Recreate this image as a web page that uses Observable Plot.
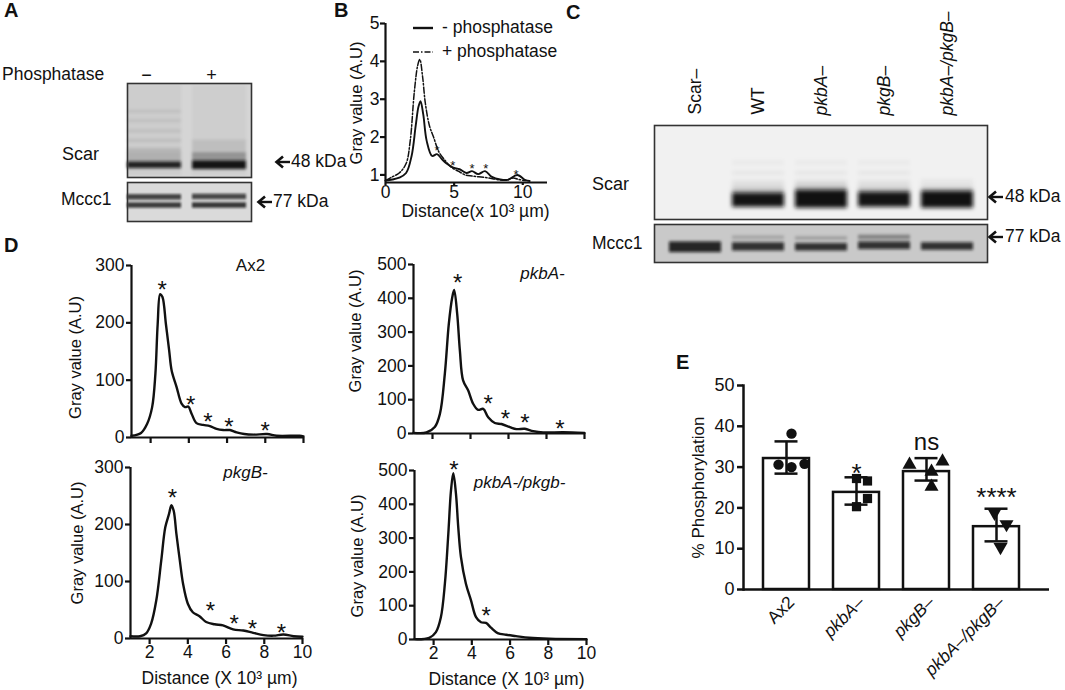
<!DOCTYPE html>
<html><head><meta charset="utf-8">
<script src="https://cdn.jsdelivr.net/npm/d3@7"></script>
<script src="https://cdn.jsdelivr.net/npm/@observablehq/plot@0.6"></script>
<style>
body{margin:0;background:#fff;}
#fig{position:relative;width:1065px;height:690px;overflow:hidden;font-family:"Liberation Sans",Arial,Helvetica,sans-serif;color:#111;background:#fff;}
#fig svg{overflow:visible;}
.t{position:absolute;white-space:nowrap;line-height:1;transform:translate(0,-50%);}
</style></head><body><div id="fig"></div><script>
// ---------------- DATA ----------------
// Panel A blot (lane, top %, bottom %, density)
const aLanes = ["−", "+"];
const aScarBands = [
  ["−", 2, 98, 0.04], ["−", 28.5, 31.5, 0.07], ["−", 38.5, 41.5, 0.07], ["−", 49.5, 52.5, 0.08],
  ["−", 59.5, 62.5, 0.09], ["−", 69, 73, 0.11], ["−", 73, 84, 0.14], ["−", 83.5, 90.5, 0.9],
  ["+", 2, 98, 0.03], ["+", 60, 76, 0.08], ["+", 74, 84, 0.28], ["+", 82.5, 91.5, 0.96]
];
const aMcccBands = [
  ["−", 31, 45, 0.75], ["−", 52, 66, 0.78], ["+", 30, 44, 0.72], ["+", 52, 66, 0.80]
];
// Panel B profiles
const bMinusX = [0, 0.5, 1, 1.5, 1.9, 2.2, 2.4, 2.55, 2.75, 3.0, 3.4, 3.75, 4.1, 4.45, 4.9, 5.4, 5.9, 6.3, 6.75, 7.25, 7.75, 8.35, 8.9, 9.6, 10.2, 10.5];
const bMinusY = [0.85, 0.88, 0.93, 1.05, 1.5, 2.3, 2.8, 2.95, 2.6, 1.9, 1.5, 1.55, 1.42, 1.3, 1.2, 1.15, 1.05, 1.1, 1.02, 1.1, 0.95, 0.88, 0.87, 1.0, 0.86, 0.84];
const bPlusX = [0, 0.5, 1.0, 1.5, 1.8, 2.1, 2.35, 2.5, 2.7, 2.9, 3.2, 3.5, 3.9, 4.3, 4.8, 5.3, 5.8, 6.3, 6.8, 7.3, 7.8, 8.3, 8.8, 9.3, 9.7, 10.2];
const bPlusY = [0.85, 0.95, 1.05, 1.3, 1.9, 3.2, 3.9, 4.05, 3.6, 2.9, 2.3, 2.0, 1.6, 1.4, 1.2, 1.1, 1.0, 0.97, 0.95, 0.93, 0.9, 0.87, 0.86, 0.92, 0.88, 0.85];
const bStarX = [3.75, 4.9, 6.3, 7.3, 9.5];
const bStarY = [1.7, 1.3, 1.22, 1.22, 1.06];
const bLegend = ["- phosphatase", "+ phosphatase"];
// Panel C blot
const cLanes = ["Scar–", "WT", "pkbA–", "pkgB–", "pkbA–/pkgB–"];
const cScarBands = [
  ["WT", 38, 42, 0.04], ["WT", 49, 53, 0.05], ["WT", 59, 65, 0.08], ["WT", 66, 74, 0.18], ["WT", 72, 87, 0.97],
  ["pkbA–", 38, 42, 0.04], ["pkbA–", 49, 53, 0.05], ["pkbA–", 59, 65, 0.1], ["pkbA–", 65, 72, 0.22], ["pkbA–", 69, 88, 0.98],
  ["pkgB–", 38, 42, 0.04], ["pkgB–", 49, 53, 0.05], ["pkgB–", 59, 65, 0.08], ["pkgB–", 66, 74, 0.18], ["pkgB–", 71, 87, 0.97],
  ["pkbA–/pkgB–", 58, 66, 0.05], ["pkbA–/pkgB–", 66, 74, 0.16], ["pkbA–/pkgB–", 70, 88, 0.98]
];
const cMcccBands = [
  ["Scar–", 46, 74, 0.88], ["WT", 30, 40, 0.18], ["WT", 48, 70, 0.82], ["pkbA–", 32, 42, 0.2], ["pkbA–", 50, 70, 0.82],
  ["pkgB–", 28, 40, 0.35], ["pkgB–", 46, 66, 0.82], ["pkbA–/pkgB–", 48, 68, 0.82]
];
// Panel D profiles
const ax2X = [1, 1.5, 1.82, 2.08, 2.25, 2.37, 2.5, 2.62, 2.8, 2.97, 3.1, 3.36, 3.62, 3.8, 3.97, 4.15, 4.4, 4.75, 5.1, 5.45, 5.8, 6.15, 6.5, 6.9, 7.4, 8.1, 8.6, 9.8, 10];
const ax2Y = [3, 8, 24, 53, 111, 198, 250, 245, 198, 152, 117, 88, 59, 53, 54, 41, 25, 22, 20, 15, 13, 13, 9, 6, 5, 6, 3, 3, 2];
const ax2StarX = [2.6, 4.1, 5.0, 6.1, 8.0];
const ax2StarY = [268, 66, 37, 29, 21];
const pkbAX = [1, 1.68, 2.12, 2.39, 2.65, 2.86, 3.04, 3.14, 3.3, 3.44, 3.61, 3.88, 4.14, 4.4, 4.67, 4.93, 5.28, 5.63, 6.07, 6.42, 6.86, 7.3, 7.82, 8.88, 10];
const pkbAY = [2, 3, 19, 58, 177, 325, 403, 425, 354, 246, 157, 127, 88, 70, 73, 48, 31, 28, 19, 13, 14, 7, 3, 4, 2];
const pkbAStarX = [3.32, 4.93, 5.84, 6.86, 8.7];
const pkbAStarY = [461, 103, 60, 48, 31];
const pkgBX = [1, 1.5, 1.82, 2.08, 2.35, 2.61, 2.82, 3.02, 3.14, 3.26, 3.4, 3.58, 3.75, 4.0, 4.26, 4.61, 4.96, 5.4, 5.84, 6.37, 6.9, 7.42, 7.96, 8.49, 9.0, 9.54, 10];
const pkgBY = [4, 4, 9, 26, 67, 137, 195, 219, 234, 224, 184, 137, 96, 61, 46, 39, 29, 25, 23, 16, 14, 10, 6, 5, 7, 4, 3];
const pkgBStarX = [3.19, 5.18, 6.42, 7.38, 8.9];
const pkgBStarY = [257, 58, 36, 27, 20];
const dblX = [1, 1.77, 2.12, 2.38, 2.59, 2.77, 2.91, 3.03, 3.17, 3.29, 3.43, 3.69, 3.96, 4.22, 4.48, 4.74, 5.0, 5.35, 5.79, 6.31, 7.0, 8.05, 10];
const dblY = [1, 5, 22, 66, 165, 313, 441, 492, 431, 332, 244, 165, 115, 66, 51, 49, 35, 19, 14, 10, 5, 2, 1];
const dblStarX = [3.06, 4.75];
const dblStarY = [518, 86];
// Panel E
const eGroups = ["Ax2", "pkbA–", "pkgB–", "pkbA–/pkgB–"];
const eMeans = [32.1, 23.8, 28.9, 15.4];
const eErrLo = [28.4, 20.8, 26.7, 11.8];
const eErrHi = [36.3, 27.5, 32.2, 19.8];
const eReps = [[38.2, 30.6, 30.0, 30.8], [27.2, 26.6, 22.3, 20.3], [30.6, 31.4, 28.9, 25.2], [18.8, 16.0, 10.4]];
const eSig = ["", "*", "ns", "****"];
// layout-only horizontal spread of replicate dots (px)
const eDotDx = [[5, -8, 5, 18], [0, 11, 11, 0], [-17, 16, 5, 5], [-2, 10, 4]];

// ---------------- LAYOUT HELPERS ----------------
const FONT = '"Liberation Sans", Arial, Helvetica, sans-serif';
const fig = document.getElementById("fig");
const baseStyle = {fontFamily: FONT, fontSize: "17px", color: "#111", background: "transparent", overflow: "visible"};
function put(node, left, top) {
  node.style.position = "absolute"; node.style.left = left + "px"; node.style.top = top + "px";
  fig.appendChild(node); return node;
}
function label(text, x, y, o = {}) {
  const d = document.createElement("div");
  d.className = "t"; d.textContent = text;
  d.style.left = x + "px"; d.style.top = y + "px";
  d.style.fontSize = (o.size || 17) + "px";
  if (o.bold) d.style.fontWeight = "bold";
  if (o.italic) d.style.fontStyle = "italic";
  fig.appendChild(d); return d;
}
function arrow(x, cy) {
  const s = d3.create("svg").attr("width", 15).attr("height", 14).style("overflow", "visible");
  s.append("path").attr("d", "M2,7 H15").attr("stroke", "#111").attr("stroke-width", 2.4);
  s.append("path").attr("d", "M8,1.5 L1.5,7 L8,12.5").attr("stroke", "#111").attr("stroke-width", 2.6)
    .attr("fill", "none").attr("stroke-linejoin", "miter");
  put(s.node(), x, cy - 7);
}
let blurCount = 0;
function blurBars(svg, sd) {
  const s = d3.select(svg);
  const id = "blotblur" + (blurCount++);
  s.insert("defs", ":first-child").append("filter").attr("id", id)
    .attr("filterUnits", "userSpaceOnUse")
    .attr("x", -20).attr("y", -20).attr("width", +s.attr("width") + 40).attr("height", +s.attr("height") + 40)
    .append("feGaussianBlur").attr("stdDeviation", sd);
  s.selectAll('g[aria-label="bar"]').attr("filter", `url(#${id})`).style("filter", `url(#${id})`);
  return svg;
}
const ink = d => `rgba(15,15,15,${d[3]})`;

// ---------------- PANEL LETTERS ----------------
label("A", 4, 10, {size: 20, bold: true});
label("B", 334, 10, {size: 20, bold: true});
label("C", 566, 12, {size: 20, bold: true});
label("D", 4, 245, {size: 20, bold: true});
label("E", 676, 362, {size: 20, bold: true});

// ---------------- PANEL A ----------------
label("Phosphatase", 2, 75, {size: 17.5});
label("Scar", 62, 154, {size: 18});
label("Mccc1", 61, 200, {size: 17.5});
arrow(275, 162); label("48 kDa", 291, 162, {size: 17.5});
arrow(257, 202); label("77 kDa", 273, 202, {size: 17.5});

put(blurBars(Plot.plot({
  width: 160, height: 124, marginLeft: 27, marginRight: 9, marginTop: 28, marginBottom: 2,
  style: baseStyle,
  x: {type: "band", domain: aLanes, range: [27, 146], paddingInner: 0.17, paddingOuter: 0, axis: null},
  y: {domain: [0, 100], reverse: true, axis: null},
  marks: [
    Plot.frame({fill: "#d5d5d5"}),
    Plot.barY(aScarBands, {x: d => d[0], y1: d => d[1], y2: d => d[2], fill: ink}),
    Plot.frame({stroke: "#333", strokeWidth: 1.6}),
    Plot.text(aLanes, {x: d => d, frameAnchor: "top", lineAnchor: "middle", dx: -8, dy: -8, fontSize: 18})
  ]
}), 1.8), 100, 55);

put(blurBars(Plot.plot({
  width: 124, height: 39, marginLeft: 0, marginRight: 0, marginTop: 0, marginBottom: 0,
  style: baseStyle,
  x: {type: "band", domain: aLanes, range: [0, 119], paddingInner: 0.17, paddingOuter: 0, axis: null},
  y: {domain: [0, 100], reverse: true, axis: null},
  marks: [
    Plot.frame({fill: "#dadada"}),
    Plot.barY(aMcccBands, {x: d => d[0], y1: d => d[1], y2: d => d[2], fill: ink}),
    Plot.frame({stroke: "#333", strokeWidth: 1.6})
  ]
}), 1.3), 127, 182);

// ---------------- PANEL B ----------------
put(Plot.plot({
  width: 240, height: 225, marginLeft: 55, marginRight: 23, marginTop: 23, marginBottom: 43,
  style: baseStyle,
  x: {domain: [0, 11.8]}, y: {domain: [0.8, 5]},
  marks: [
    Plot.axisY({ticks: [1, 2, 3, 4, 5], tickFormat: d => String(d), tickSize: 5, tickPadding: 1, strokeWidth: 2.2, fontSize: 17.5, label: null}),
    Plot.axisX({ticks: [0, 5, 10], tickFormat: d => String(d), tickSize: 3, tickPadding: 0, strokeWidth: 2.2, fontSize: 17.5, label: null}),
    Plot.ruleX([0], {strokeWidth: 2.2}),
    Plot.ruleY([0.8], {strokeWidth: 2.2}),
    Plot.line(bPlusX.map((x, i) => [x, bPlusY[i]]), {curve: "catmull-rom", strokeWidth: 1.5, strokeDasharray: "6,2,1.5,2"}),
    Plot.line(bMinusX.map((x, i) => [x, bMinusY[i]]), {curve: "catmull-rom", strokeWidth: 1.9}),
    Plot.text(bStarX.map((x, i) => [x, bStarY[i]]), {text: () => "*", fontSize: 13, dy: 2}),
    Plot.text(["Gray value (A.U)"], {frameAnchor: "left", textAnchor: "middle", lineAnchor: "middle", dx: -29, rotate: -90, fontSize: 16.5}),
    Plot.text(["Distance(x 10³ µm)"], {frameAnchor: "bottom", lineAnchor: "middle", dx: 9, dy: 29, fontSize: 17.5})
  ]
}), 330, 0);

// legend for B
bLegend.forEach((txt, i) => {
  const cy = i === 0 ? 28 : 52;
  const s = d3.create("svg").attr("width", 20).attr("height", 6);
  s.append("line").attr("x1", 0).attr("x2", 20).attr("y1", 3).attr("y2", 3)
    .attr("stroke", "#111").attr("stroke-width", i === 0 ? 2.4 : 1.6)
    .attr("stroke-dasharray", i === 0 ? null : "6,2,1.5,2");
  put(s.node(), 413, cy - 3);
  label(txt, 442, cy, {size: 17.5});
});

// ---------------- PANEL C ----------------
label("Scar", 592, 184, {size: 18});
label("Mccc1", 592, 244, {size: 17.5});
arrow(988, 197); label("48 kDa", 1005, 197, {size: 17.5});
arrow(988, 237); label("77 kDa", 1005, 237, {size: 17.5});

put(blurBars(Plot.plot({
  width: 360, height: 221, marginLeft: 14, marginRight: 13, marginTop: 125, marginBottom: 2,
  style: baseStyle,
  x: {type: "band", domain: cLanes, range: [28, 334], paddingInner: 0.18, paddingOuter: 0, axis: null},
  y: {domain: [0, 100], reverse: true, axis: null},
  marks: [
    Plot.frame({fill: "#f1f1f1"}),
    Plot.barY(cScarBands, {x: d => d[0], y1: d => d[1], y2: d => d[2], fill: ink}),
    Plot.frame({stroke: "#333", strokeWidth: 1.6}),
    Plot.text(cLanes.filter(d => d === "Scar–" || d === "WT"), {x: d => d, frameAnchor: "top", lineAnchor: "middle", dy: -11, rotate: -90, textAnchor: "start", fontSize: 17.5}),
    Plot.text(cLanes.filter(d => d !== "Scar–" && d !== "WT"), {x: d => d, frameAnchor: "top", lineAnchor: "middle", dy: -10, rotate: -90, textAnchor: "start", fontSize: 17.5, fontStyle: "italic"})
  ]
}), 2.2), 640, 0);

put(blurBars(Plot.plot({
  width: 333, height: 38, marginLeft: 0, marginRight: 0, marginTop: 0, marginBottom: 0,
  style: baseStyle,
  x: {type: "band", domain: cLanes, range: [14, 320], paddingInner: 0.18, paddingOuter: 0, axis: null},
  y: {domain: [0, 100], reverse: true, axis: null},
  marks: [
    Plot.frame({fill: "#c9c9c9"}),
    Plot.barY(cMcccBands, {x: d => d[0], y1: d => d[1], y2: d => d[2], fill: ink}),
    Plot.frame({stroke: "#333", strokeWidth: 1.6})
  ]
}), 1.6), 654, 224);

// ---------------- PANEL D ----------------
function profilePlot(p) {
  const pts = p.x.map((x, i) => [x, p.y[i]]);
  const stars = p.sx.map((x, i) => [x, p.sy[i]]);
  return Plot.plot({
    width: p.w, height: p.h, marginLeft: p.ml, marginRight: p.mr, marginTop: p.mt, marginBottom: p.mb,
    style: baseStyle,
    x: {domain: [1, 10]}, y: {domain: [0, p.ymax]},
    marks: [
      Plot.axisY({ticks: p.yticks, tickFormat: d => String(d), tickSize: 5, tickPadding: 2, strokeWidth: 2.2, fontSize: 17.5, label: null}),
      Plot.axisX({ticks: [2, 4, 6, 8, 10], tickSize: 6, tickPadding: 1, strokeWidth: 2.2, fontSize: 17.5, label: null,
        tickFormat: p.xlabels ? (d => String(d)) : (() => "")}),
      Plot.ruleX([1], {strokeWidth: 2.2}),
      Plot.ruleY([0], {strokeWidth: 2.2}),
      Plot.line(pts, {curve: "catmull-rom", strokeWidth: 2.4}),
      Plot.text(stars, {text: () => "*", fontSize: 24, dy: 6}),
      Plot.text([p.name], {frameAnchor: "top-right", dx: p.ndx, dy: p.ndy, textAnchor: "middle", lineAnchor: "middle",
        fontStyle: p.italic ? "italic" : "normal", fontSize: 17}),
      Plot.text(["Gray value (A.U)"], {frameAnchor: "left", textAnchor: "middle", lineAnchor: "middle", dx: p.ldx, dy: p.ldy, rotate: -90, fontSize: 16.5}),
      p.xlabels ? Plot.text(["Distance (X 10³ µm)"], {frameAnchor: "bottom", lineAnchor: "middle", dx: p.xdx, dy: 40, fontSize: 17.5}) : null
    ]
  });
}
put(profilePlot({x: ax2X, y: ax2Y, sx: ax2StarX, sy: ax2StarY, name: "Ax2", italic: false, ymax: 300, yticks: [0, 100, 200, 300],
  w: 310, h: 210, ml: 131, mr: 7, mt: 25, mb: 13, xlabels: false, ndx: -53, ndy: 0, ldx: -56, ldy: 6}), 0, 240);
put(profilePlot({x: pkbAX, y: pkbAY, sx: pkbAStarX, sy: pkbAStarY, name: "pkbA-", italic: true, ymax: 500, yticks: [0, 100, 200, 300, 400, 500],
  w: 310, h: 210, ml: 133, mr: 6, mt: 24, mb: 17, xlabels: false, ndx: -42, ndy: 9, ldx: -58, ldy: -18}), 280, 240);
put(profilePlot({x: pkgBX, y: pkgBY, sx: pkgBStarX, sy: pkgBStarY, name: "pkgB-", italic: true, ymax: 300, yticks: [0, 100, 200, 300],
  w: 310, h: 240, ml: 130, mr: 8, mt: 17, mb: 52, xlabels: true, ndx: -57, ndy: 5, ldx: -53, ldy: -10, xdx: 3}), 0, 450);
put(profilePlot({x: dblX, y: dblY, sx: dblStarX, sy: dblStarY, name: "pkbA-/pkgb-", italic: true, ymax: 500, yticks: [0, 100, 200, 300, 400, 500],
  w: 300, h: 240, ml: 124, mr: 4, mt: 20, mb: 51, xlabels: true, ndx: -67, ndy: 12, ldx: -57, ldy: 1, xdx: 6}), 290, 450);

// ---------------- PANEL E ----------------
const eRows = eGroups.map((g, i) => ({g, mean: eMeans[i], lo: eErrLo[i], hi: eErrHi[i], sig: eSig[i]}));
const triDown = {draw(ctx, size) {
  const y = -Math.sqrt(size / (Math.sqrt(3) * 3));
  ctx.moveTo(0, -y * 2); ctx.lineTo(-Math.sqrt(3) * y, y); ctx.lineTo(Math.sqrt(3) * y, y); ctx.closePath();
}};
const eSymbols = ["circle", "square", "triangle", triDown];
const dotMarks = [];
eReps.forEach((vals, gi) => vals.forEach((v, j) => {
  dotMarks.push(Plot.dot([{g: eGroups[gi], v}], {x: "g", y: "v", r: 5.2, symbol: eSymbols[gi], fill: "#111", stroke: "none", dx: eDotDx[gi][j]}));
}));
const sigDy = {"*": -3.5, "ns": -16, "****": -11};
const sigSize = {"*": 26, "ns": 24, "****": 26};
put(Plot.plot({
  width: 405, height: 390, marginLeft: 83, marginRight: 16, marginTop: 85, marginBottom: 101,
  style: baseStyle,
  x: {type: "band", domain: eGroups, range: [101, 361], paddingInner: 0.338, paddingOuter: 0, axis: null},
  y: {domain: [0, 50]},
  marks: [
    Plot.axisY({ticks: [0, 10, 20, 30, 40, 50], tickFormat: d => String(d), tickSize: 6, tickPadding: 3, strokeWidth: 2.5, fontSize: 18, label: null}),
    Plot.frame({anchor: "left", strokeWidth: 2.5}),
    Plot.barY(eRows, {x: "g", y: "mean", fill: "white", stroke: "#111", strokeWidth: 2.5}),
    Plot.ruleY([0], {strokeWidth: 2.5}),
    Plot.ruleX(eRows, {x: "g", y1: "lo", y2: "hi", strokeWidth: 2.5}),
    Plot.tickY(eRows, {x: "g", y: "hi", insetLeft: 11.5, insetRight: 11.5, strokeWidth: 2.5}),
    Plot.tickY(eRows, {x: "g", y: "lo", insetLeft: 11.5, insetRight: 11.5, strokeWidth: 2.5}),
    ...dotMarks,
    ...eRows.filter(d => d.sig).map(d => Plot.text([d], {x: "g", y: "hi", text: "sig", dy: sigDy[d.sig], fontSize: sigSize[d.sig]})),
    Plot.text(eGroups.slice(0, 1), {x: d => d, frameAnchor: "bottom", lineAnchor: "middle", dx: 5, dy: 10, rotate: -45, textAnchor: "end", fontSize: 17.5}),
    Plot.text(eGroups.slice(1), {x: d => d, frameAnchor: "bottom", lineAnchor: "middle", dx: 5, dy: 10, rotate: -45, textAnchor: "end", fontSize: 17.5, fontStyle: "italic"}),
    Plot.text(["% Phosphorylation"], {frameAnchor: "left", textAnchor: "middle", lineAnchor: "middle", dx: -45, rotate: -90, fontSize: 17})
  ]
}), 660, 300);
</script></body></html>
